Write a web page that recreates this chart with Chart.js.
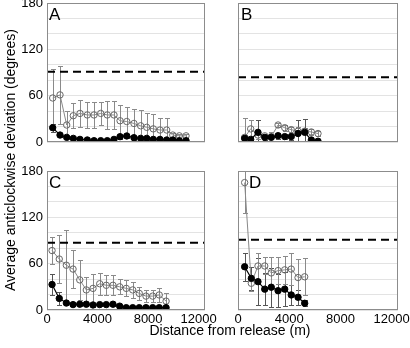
<!DOCTYPE html>
<html>
<head>
<meta charset="utf-8">
<script src="https://cdn.jsdelivr.net/npm/chart.js@4.4.1/dist/chart.umd.min.js"></script>
<style>
    body { margin: 0; width: 410px; height: 348px; overflow: hidden; position: relative; background: #fff;
           font-family: "Liberation Sans", Arial, sans-serif; }
    canvas { position: absolute; left: 0; top: -20px; }
    .letter { position: absolute; font-size: 17px; line-height: 17px; color: #000; }
    #ytitle { position: absolute; left: -140px; top: 152px; width: 300px; height: 16px; line-height: 16px;
              font-size: 14px; text-align: center; transform: rotate(-90deg); white-space: nowrap; }
    #xtitle { position: absolute; left: 80px; top: 322px; width: 300px; line-height: 16px; font-size: 14px;
              text-align: center; white-space: nowrap; }
</style>
</head>
<body>
<canvas id="panelA" width="450" height="400"></canvas>
<canvas id="panelB" width="450" height="400"></canvas>
<canvas id="panelC" width="450" height="400"></canvas>
<canvas id="panelD" width="450" height="400"></canvas>
<div class="letter" style="left:49px;top:6px">A</div>
<div class="letter" style="left:241px;top:6px">B</div>
<div class="letter" style="left:49px;top:174px">C</div>
<div class="letter" style="left:249px;top:174px">D</div>
<div id="ytitle">Average anticlockwise deviation (degrees)</div>
<div id="xtitle">Distance from release (m)</div>
<script>
// axis ticks
const xTicks = [0, 4000, 8000, 12000];
const xMax = 12500;
const yGrid = [0, 20, 40, 60, 80, 100, 120, 140, 160, 180];
const yLabels = [0, 60, 120, 180];

// panel A
const distA = [450, 1030, 1560, 2080, 2610, 3190, 3720, 4250, 4770, 5300, 5780, 6310, 6880, 7410, 7890, 8410, 8940, 9470, 9950, 10470, 11000];
const openA = [57, 61, 22, 34, 37, 35, 35, 37, 35, 35, 27.5, 26.5, 24, 21, 19, 17, 15.5, 15.5, 9, 8, 8];
const openErrA = [38, 38, 18, 16, 18, 17, 17, 15, 18, 18, 20, 19, 19, 21, 19, 19, 16, 15, 3, 2.5, 2.5];
const filledA = [18.5, 9, 6, 4.7, 3.4, 2.6, 1.7, 1.7, 1.7, 3.4, 6.9, 7.8, 5.6, 4.7, 4.7, 3.4, 3.4, 2.6, 2.6, 1.7, 1.7];
const filledErrA = [5, 3, 2, 2, 1.5, 1.5, 1.5, 1.5, 1.5, 1.5, 2.5, 3, 2.5, 2, 2, 2, 2, 1.5, 1.5, 1.5, 1.5];
const refA = 91;

// panel B
const distB = [520, 990, 1560, 2090, 2600, 3130, 3650, 4160, 4690, 5210, 5730, 6250];
const openB = [6, 17, 9, 8, 7, 22, 18.5, 16, 14, 14, 13, 11];
const openErrB = [25, 12, 5, 3, 6, 3, 4, 4, 5, 4, 4, 3];
const filledB = [4.7, 3.4, 12.5, 6, 6, 8.2, 7, 7, 11, 12.5, 2.6, 1];
const filledErrB = [4, 3, 16, 4, 5, 4, 3, 4, 17, 17, 3, 2];
const refB = 84;

// panel C
const distC = [400, 970, 1530, 2060, 2590, 3110, 3640, 4170, 4690, 5220, 5750, 6270, 6780, 7300, 7830, 8360, 8880, 9420];
const openC = [77, 66, 58, 53, 39, 26, 28, 34, 32, 32, 30, 28, 26, 21.5, 18, 18, 19.5, 11.5];
const openErrC = [18, 31, 45, 25, 26, 17, 18.5, 14, 13, 13, 9.5, 10.5, 10, 8.5, 8, 8, 8.5, 10];
const filledC = [33, 15, 9, 7, 7.5, 7.5, 6.5, 7, 7, 7.5, 5, 3, 3, 3, 3, 3, 3, 3];
const filledErrC = [13, 8.5, 3, 2, 2, 2, 2, 2, 2, 2, 2, 1.5, 1.5, 1.5, 1.5, 1.5, 1.5, 1.5];
const refC = 87;

// panel D
const distD = [520, 1040, 1560, 2090, 2600, 3130, 3650, 4160, 4690, 5210];
const openD = [165, 34.6, 57, 57, 48, 51, 52, 53, 42, 43];
const openErrD = [39, 10, 17, 11, 20, 17, 18, 21, 24, 24];
const filledD = [56, 41, 36.7, 27, 29.5, 25, 27, 19.5, 16.5, 8.7];
const filledErrD = [18, 15, 30, 21, 25, 21, 22, 13, 10, 4];
const refD = 91;

Chart.defaults.font.family = '"Liberation Sans", Arial, sans-serif';
Chart.defaults.color = '#000';

function points(xs, ys) {
    return xs.map((x, i) => ({ x: x, y: ys[i] }));
}

// vertical error bars with caps, under the markers
const errorBars = {
    id: 'errorBars',
    beforeDatasetsDraw(chart) {
        const { ctx, chartArea: a, scales: { x, y } } = chart;
        ctx.save();
        ctx.beginPath();
        ctx.rect(a.left, a.top, a.right - a.left, a.bottom - a.top);
        ctx.clip();
        chart.data.datasets.forEach(ds => {
            if (!ds.errors) return;
            ctx.strokeStyle = ds.errColor;
            ctx.lineWidth = 1;
            ds.data.forEach((pt, i) => {
                const e = ds.errors[i];
                const px = Math.round(x.getPixelForValue(pt.x)) + 0.5;
                const top = Math.round(y.getPixelForValue(pt.y + e)) + 0.5;
                const bot = Math.round(y.getPixelForValue(pt.y - e)) + 0.5;
                ctx.beginPath();
                ctx.moveTo(px, top); ctx.lineTo(px, bot);
                ctx.moveTo(px - 2.5, top); ctx.lineTo(px + 2.5, top);
                ctx.moveTo(px - 2.5, bot); ctx.lineTo(px + 2.5, bot);
                ctx.stroke();
            });
        });
        ctx.restore();
    }
};

const frame = {
    id: 'frame',
    afterDraw(chart) {
        const { ctx, chartArea: a } = chart;
        ctx.save();
        ctx.strokeStyle = '#8c8c8c';
        ctx.lineWidth = 1;
        ctx.strokeRect(Math.round(a.left) + 0.5, Math.round(a.top) + 0.5,
            Math.round(a.right - a.left) - 1, Math.round(a.bottom - a.top) - 1);
        ctx.restore();
    }
};

function makePanel(id, p) {
    const yWidth = p.showY ? 40 : 0;
    const xHeight = p.showX ? 20 : 0;
    return new Chart(document.getElementById(id), {
        type: 'line',
        data: {
            datasets: [{
                data: points(p.dist, p.filled),
                errors: p.filledErr,
                errColor: '#555',
                borderColor: '#000',
                backgroundColor: '#000',
                borderWidth: 1.2,
                pointRadius: 3.2,
                pointBorderWidth: 1,
            }, {
                data: points(p.dist, p.open),
                errors: p.openErr,
                errColor: '#8a8a8a',
                borderColor: '#888',
                backgroundColor: 'rgba(255,255,255,0)',
                pointBorderColor: '#666',
                borderWidth: 1,
                pointRadius: 3.2,
                pointBorderWidth: 1,
            }, {
                data: [{ x: 0, y: p.ref }, { x: xMax, y: p.ref }],
                borderColor: '#000',
                borderWidth: 2,
                borderDash: [8, 5],
                pointRadius: 0,
            }],
        },
        options: {
            responsive: false,
            animation: false,
            events: [],
            plugins: { legend: { display: false }, tooltip: { enabled: false } },
            layout: {
                padding: {
                    left: p.left - yWidth,
                    right: 450 - p.right,
                    top: p.top + 20,
                    bottom: 400 - (p.bottom + 20) - xHeight,
                },
            },
            scales: {
                x: {
                    type: 'linear',
                    min: 0,
                    max: xMax,
                    afterBuildTicks: s => { s.ticks = xTicks.map(v => ({ value: v })); },
                    afterFit: s => { s.height = xHeight; },
                    grid: { display: false, drawTicks: false },
                    border: { display: false },
                    ticks: {
                        display: p.showX, padding: 2, maxRotation: 0, autoSkip: false, font: { size: 13 },
                        callback: v => String(v),
                    },
                },
                y: {
                    type: 'linear',
                    min: 0,
                    max: 180,
                    afterBuildTicks: s => { s.ticks = yGrid.map(v => ({ value: v })); },
                    afterFit: s => { s.width = yWidth; },
                    grid: { color: '#e3e3e3', drawTicks: false },
                    border: { display: false },
                    ticks: {
                        display: p.showY, padding: 4, autoSkip: false, font: { size: 13 },
                        callback: v => yLabels.includes(v) ? String(v) : '',
                    },
                },
            },
        },
        plugins: [errorBars, frame],
    });
}

makePanel('panelA', { dist: distA, open: openA, openErr: openErrA, filled: filledA, filledErr: filledErrA, ref: refA,
    left: 47, right: 205, top: 3, bottom: 142, showX: false, showY: true });
makePanel('panelB', { dist: distB, open: openB, openErr: openErrB, filled: filledB, filledErr: filledErrB, ref: refB,
    left: 238, right: 398, top: 3, bottom: 142, showX: false, showY: false });
makePanel('panelC', { dist: distC, open: openC, openErr: openErrC, filled: filledC, filledErr: filledErrC, ref: refC,
    left: 47, right: 205, top: 171, bottom: 310, showX: true, showY: true });
makePanel('panelD', { dist: distD, open: openD, openErr: openErrD, filled: filledD, filledErr: filledErrD, ref: refD,
    left: 238, right: 398, top: 171, bottom: 310, showX: true, showY: false });
</script>
</body>
</html>
